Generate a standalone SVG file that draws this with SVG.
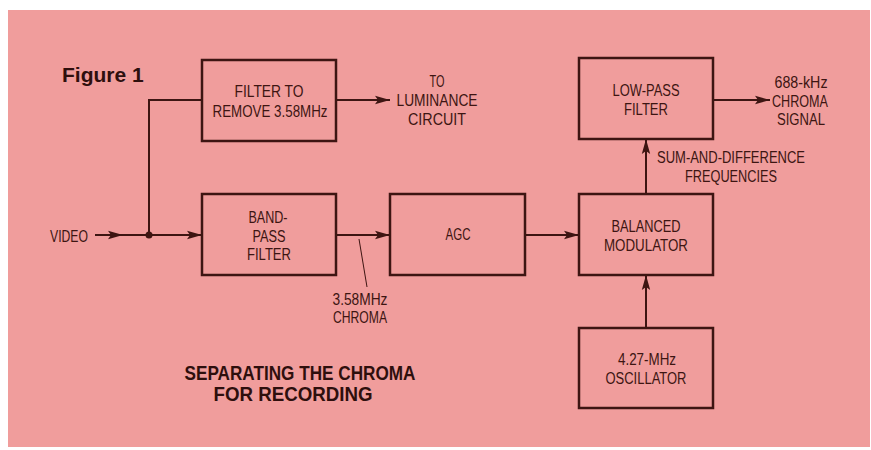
<svg xmlns="http://www.w3.org/2000/svg" width="871" height="450" viewBox="0 0 871 450">
<style>
.bg{fill:#f09d9c}
.box{fill:none;stroke:#3d1512;stroke-width:2.5}
.ln{fill:none;stroke:#3d1512;stroke-width:2}
.t{font-family:"Liberation Sans",Arial,sans-serif;font-size:16px;fill:#3d1512;text-anchor:middle}
.ttl{font-family:"Liberation Sans",Arial,sans-serif;font-size:20px;font-weight:bold;fill:#2e0f0d;text-anchor:middle}
.fig{font-family:"Liberation Sans",Arial,sans-serif;font-size:21px;font-weight:bold;fill:#2e0f0d}
</style>
<defs>
<marker id="ah" markerUnits="userSpaceOnUse" markerWidth="16" markerHeight="10" refX="15" refY="5" orient="auto">
<path d="M0,0.8 L15,5 L0,9.2 L3,5 Z" fill="#3d1512"/>
</marker>
</defs>
<rect class="bg" x="8" y="10" width="862" height="437"/>
<text class="fig" x="62" y="82">Figure 1</text>
<g id="connectors">
<line class="ln" x1="95" y1="235" x2="123" y2="235" marker-end="url(#ah)"/>
<line class="ln" x1="123" y1="235" x2="202" y2="235" marker-end="url(#ah)"/>
<circle cx="149" cy="235" r="3.5" fill="#3d1512"/>
<polyline class="ln" points="149,235 149,100 202,100"/>
<line class="ln" x1="336" y1="100" x2="390" y2="100" marker-end="url(#ah)"/>
<line class="ln" x1="336" y1="235" x2="390" y2="235" marker-end="url(#ah)"/>
<line class="ln" x1="525" y1="235" x2="579" y2="235" marker-end="url(#ah)"/>
<line class="ln" x1="646" y1="194" x2="646" y2="139" marker-end="url(#ah)"/>
<line class="ln" x1="646" y1="328" x2="646" y2="275" marker-end="url(#ah)"/>
<line class="ln" x1="713" y1="100" x2="770" y2="100" marker-end="url(#ah)"/>
<line x1="359" y1="239" x2="367" y2="287" stroke="#3d1512" stroke-width="1"/>
</g>
<g id="filter-remove">
<rect class="box" x="202" y="60" width="134" height="81"/>
<text class="t" x="269" y="97" textLength="69" lengthAdjust="spacingAndGlyphs">FILTER TO</text>
<text class="t" x="270" y="117" textLength="115" lengthAdjust="spacingAndGlyphs">REMOVE 3.58MHz</text>
</g>
<g id="band-pass">
<rect class="box" x="202" y="194" width="134" height="81"/>
<text class="t" x="268" y="223" textLength="39" lengthAdjust="spacingAndGlyphs">BAND-</text>
<text class="t" x="269" y="242" textLength="33" lengthAdjust="spacingAndGlyphs">PASS</text>
<text class="t" x="269" y="260" textLength="44" lengthAdjust="spacingAndGlyphs">FILTER</text>
</g>
<g id="agc">
<rect class="box" x="390" y="194" width="135" height="81"/>
<text class="t" x="458" y="240" textLength="25" lengthAdjust="spacingAndGlyphs">AGC</text>
</g>
<g id="balanced-modulator">
<rect class="box" x="579" y="194" width="134" height="81"/>
<text class="t" x="646" y="232" textLength="69" lengthAdjust="spacingAndGlyphs">BALANCED</text>
<text class="t" x="646" y="251" textLength="84" lengthAdjust="spacingAndGlyphs">MODULATOR</text>
</g>
<g id="low-pass">
<rect class="box" x="579" y="58" width="134" height="81"/>
<text class="t" x="646" y="96" textLength="67" lengthAdjust="spacingAndGlyphs">LOW-PASS</text>
<text class="t" x="646" y="115" textLength="44" lengthAdjust="spacingAndGlyphs">FILTER</text>
</g>
<g id="oscillator">
<rect class="box" x="579" y="328" width="134" height="80"/>
<text class="t" x="647" y="365" textLength="58" lengthAdjust="spacingAndGlyphs">4.27-MHz</text>
<text class="t" x="646" y="384" textLength="81" lengthAdjust="spacingAndGlyphs">OSCILLATOR</text>
</g>
<g id="labels">
<text class="t" x="69" y="242" textLength="38" lengthAdjust="spacingAndGlyphs">VIDEO</text>
<text class="t" x="437" y="87" textLength="15" lengthAdjust="spacingAndGlyphs">TO</text>
<text class="t" x="437" y="106" textLength="81" lengthAdjust="spacingAndGlyphs">LUMINANCE</text>
<text class="t" x="437" y="125" textLength="58" lengthAdjust="spacingAndGlyphs">CIRCUIT</text>
<text class="t" x="801" y="88" textLength="53" lengthAdjust="spacingAndGlyphs">688-kHz</text>
<text class="t" x="800" y="107" textLength="56" lengthAdjust="spacingAndGlyphs">CHROMA</text>
<text class="t" x="801" y="125" textLength="48" lengthAdjust="spacingAndGlyphs">SIGNAL</text>
<text class="t" x="731" y="163" textLength="148" lengthAdjust="spacingAndGlyphs">SUM-AND-DIFFERENCE</text>
<text class="t" x="731" y="182" textLength="92" lengthAdjust="spacingAndGlyphs">FREQUENCIES</text>
<text class="t" x="360" y="305" textLength="55" lengthAdjust="spacingAndGlyphs">3.58MHz</text>
<text class="t" x="360" y="323" textLength="54" lengthAdjust="spacingAndGlyphs">CHROMA</text>
<text class="ttl" x="300" y="380" textLength="231" lengthAdjust="spacingAndGlyphs">SEPARATING THE CHROMA</text>
<text class="ttl" x="293" y="401" textLength="159" lengthAdjust="spacingAndGlyphs">FOR RECORDING</text>
</g>
</svg>
